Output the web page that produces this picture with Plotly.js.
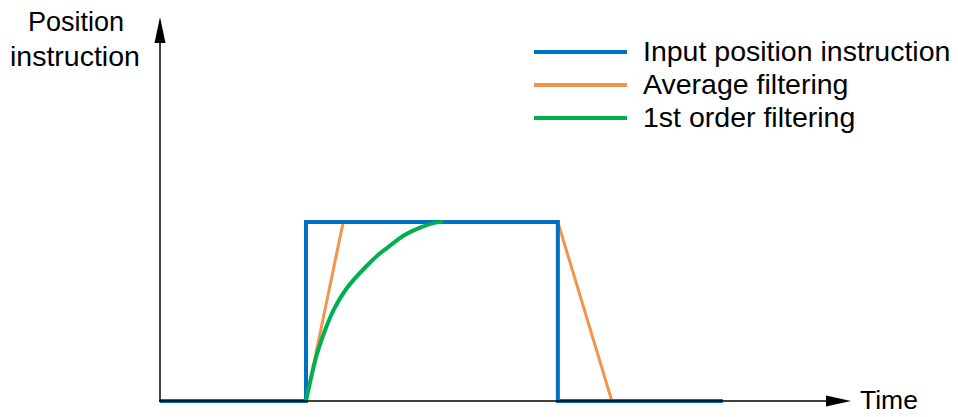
<!DOCTYPE html>
<html>
<head>
<meta charset="utf-8">
<script src="https://cdn.plot.ly/plotly-3.0.1.min.js"></script>
<style>html,body{margin:0;padding:0;background:#fff;}#chart{width:958px;height:417px;}</style>
</head>
<body>
<div id="chart"></div>
<script>
// ---- data (time units, position normalised to 1) ----
const seriesNames = ["Input position instruction", "Average filtering", "1st order filtering"];
const seriesColors = ["#0070C0", "#F0954E", "#00B050"];

const inputTime = [0, 2.0, 2.0, 5.45, 5.45, 7.71];
const inputPos  = [0, 0, 1, 1, 0, 0];

const avgTime = [2.0, 2.51, 5.45, 6.19];
const avgPos  = [0, 1, 1, 0];

const firstTime = [2.0, 2.078, 2.147, 2.237, 2.374, 2.558, 2.82, 3.014, 3.105, 3.333, 3.562, 3.79, 3.877];
const firstPos  = [0, 0.145, 0.257, 0.369, 0.505, 0.63, 0.75, 0.825, 0.853, 0.923, 0.968, 0.998, 1.0];

const xAxisLabel = "Time";
const yAxisLabelLines = ["Position", "instruction"];

// ---- layout helpers ----
const W = 958, H = 417;
const X0 = 160, PXU = 73;      // pixel of t=0, pixels per time unit
const Y0 = 401, PYU = 179;     // pixel of pos=0, pixels per position unit
const tOf = px => (px - X0) / PXU;
const vOf = py => (Y0 - py) / PYU;
const fontFam = "'Liberation Sans', Arial, sans-serif";

const traces = [
  {x: avgTime, y: avgPos, mode: "lines", line: {color: seriesColors[1], width: 3}, name: seriesNames[1]},
  {x: inputTime, y: inputPos, mode: "lines", line: {color: seriesColors[0], width: 4}, name: seriesNames[0]},
  {x: firstTime, y: firstPos, mode: "lines", line: {color: seriesColors[2], width: 4, shape: "spline", smoothing: 0.6}, name: seriesNames[2]}
];

const shapes = [
  // y axis with arrow
  {type: "line", xref: "x", yref: "y", x0: 0, x1: 0, y0: vOf(402), y1: vOf(40), line: {color: "#000", width: 1.5}},
  {type: "path", xref: "x", yref: "y",
   path: `M ${tOf(154.5)} ${vOf(43)} L ${tOf(160)} ${vOf(17)} L ${tOf(165.5)} ${vOf(43)} Z`,
   fillcolor: "#000", line: {color: "#000", width: 0}},
  // x axis with arrow
  {type: "line", xref: "x", yref: "y", x0: tOf(159), x1: tOf(830), y0: 0, y1: 0, line: {color: "#000", width: 1.5}},
  {type: "path", xref: "x", yref: "y",
   path: `M ${tOf(826)} ${vOf(395.5)} L ${tOf(851)} ${vOf(401)} L ${tOf(826)} ${vOf(406.5)} Z`,
   fillcolor: "#000", line: {color: "#000", width: 0}}
];

const legendRowsPy = [52, 85, 118];
const annotations = [
  {xref: "paper", yref: "paper", x: 75.5 / W, y: 1 - 22 / H, xanchor: "center", yanchor: "middle",
   text: yAxisLabelLines[0], showarrow: false, font: {family: fontFam, size: 27, color: "#000"}},
  {xref: "paper", yref: "paper", x: 74.5 / W, y: 1 - 56 / H, xanchor: "center", yanchor: "middle",
   text: yAxisLabelLines[1], showarrow: false, font: {family: fontFam, size: 28.5, color: "#000"}},
  {xref: "paper", yref: "paper", x: 858 / W, y: 1 - 400 / H, xanchor: "left", yanchor: "middle",
   text: xAxisLabel, showarrow: false, font: {family: fontFam, size: 26.5, color: "#000"}}
];
const legendOrder = [0, 1, 2];
legendOrder.forEach((si, i) => {
  const py = legendRowsPy[i];
  shapes.push({type: "line", xref: "paper", yref: "paper", x0: 534 / W, x1: 627 / W,
    y0: 1 - py / H, y1: 1 - py / H, line: {color: seriesColors[si], width: 4}});
  annotations.push({xref: "paper", yref: "paper", x: 641 / W, y: 1 - (py - 1) / H, xanchor: "left", yanchor: "middle",
    text: seriesNames[si], showarrow: false, font: {family: fontFam, size: 28.5, color: "#000"}});
});

const layout = {
  width: W, height: H,
  margin: {l: 0, r: 0, t: 0, b: 0, pad: 0},
  paper_bgcolor: "#fff", plot_bgcolor: "#fff",
  showlegend: false,
  xaxis: {range: [tOf(0), tOf(W)], visible: false, fixedrange: true},
  yaxis: {range: [vOf(H), vOf(0)], visible: false, fixedrange: true},
  shapes: shapes,
  annotations: annotations
};

Plotly.newPlot("chart", traces, layout, {staticPlot: true, displayModeBar: false});
</script>
</body>
</html>
